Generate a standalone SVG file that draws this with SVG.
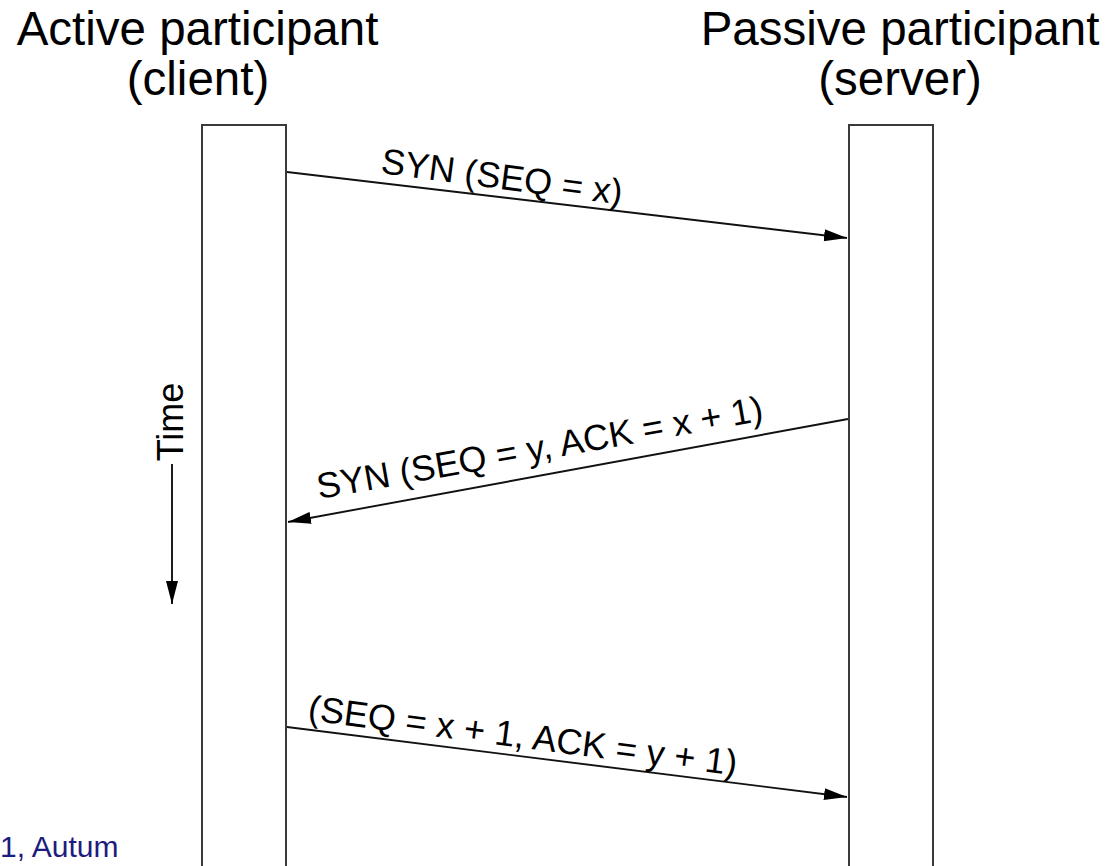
<svg xmlns="http://www.w3.org/2000/svg" width="1114" height="866" viewBox="0 0 1114 866">
  <style>
    .title { font-family: "Liberation Sans", Arial, sans-serif; font-size: 47.5px; fill: #000; text-anchor: middle; }
    .label { font-family: "Liberation Sans", Arial, sans-serif; font-size: 36px; fill: #000; }
    .lifeline { fill: #fff; stroke: #3a3a3a; stroke-width: 2; }
    .msg { stroke: #111; stroke-width: 1.9; fill: none; marker-end: url(#head); }
    .note { font-family: "Liberation Sans", Arial, sans-serif; font-size: 30px; fill: #1c1c80; }
  </style>
  <defs>
    <marker id="head" markerUnits="userSpaceOnUse" markerWidth="23" markerHeight="13" refX="23" refY="6.5" orient="auto">
      <path d="M0,0.5 L23,6.5 L0,12.5 z" fill="#000"/>
    </marker>
  </defs>
  <rect width="1114" height="866" fill="#fff"/>

  <!-- client lifeline -->
  <g id="client">
    <text class="title" x="197.5" y="45">Active participant</text>
    <text class="title" x="198" y="95">(client)</text>
    <rect class="lifeline" x="202" y="125" width="84" height="770"/>
  </g>

  <!-- server lifeline -->
  <g id="server">
    <text class="title" x="900" y="45">Passive participant</text>
    <text class="title" x="900" y="95">(server)</text>
    <rect class="lifeline" x="849" y="125" width="84" height="770"/>
  </g>

  <!-- time axis -->
  <g id="time">
    <text class="label" text-anchor="middle" transform="translate(183,422) rotate(-90)">Time</text>
    <line x1="172" y1="464" x2="172" y2="604" class="msg"/>
  </g>

  <!-- handshake messages -->
  <g id="connectors">
    <line class="msg" x1="287" y1="172" x2="847" y2="238"/>
    <line class="msg" x1="848" y1="419" x2="288" y2="522"/>
    <line class="msg" x1="287" y1="727" x2="847" y2="797"/>
  </g>

  <g id="labels">
    <text class="label" transform="translate(380,173) rotate(7.5)">SYN (SEQ = x)</text>
    <text class="label" transform="translate(319,499) rotate(-10)">SYN (SEQ = y, ACK = x + 1)</text>
    <text class="label" transform="translate(307,720) rotate(7.4)">(SEQ = x + 1, ACK = y + 1)</text>
  </g>

  <text class="note" x="0" y="857">1, Autum</text>
</svg>
